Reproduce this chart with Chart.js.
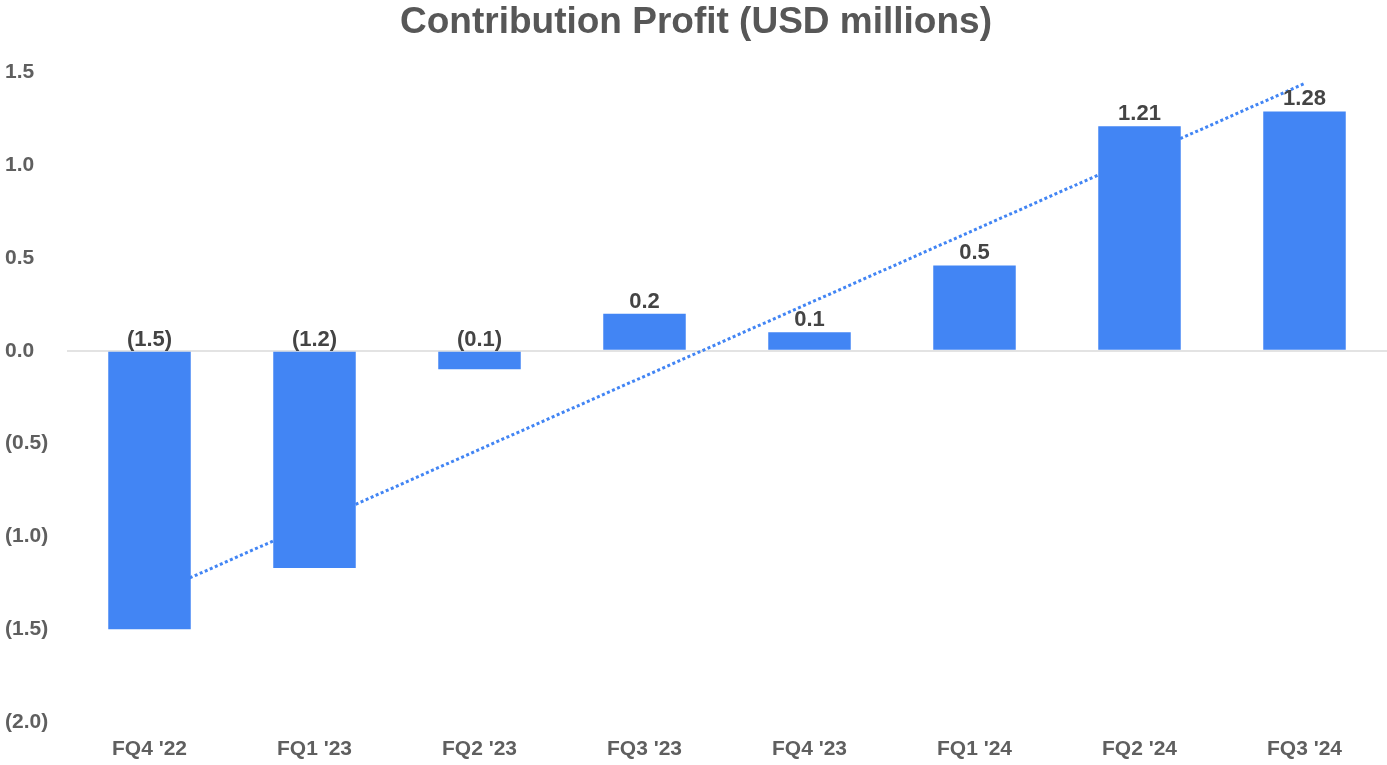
<!DOCTYPE html>
<html>
<head>
<meta charset="utf-8">
<script src="https://cdn.jsdelivr.net/npm/chart.js@4.4.1/dist/chart.umd.min.js"></script>
<style>
  html, body { margin: 0; padding: 0; background: #ffffff; }
  #wrap { width: 1387px; height: 765px; position: relative; }
</style>
</head>
<body>
<div id="wrap"><canvas id="c" width="1387" height="765"></canvas></div>
<script>
const categories = ["FQ4 '22", "FQ1 '23", "FQ2 '23", "FQ3 '23", "FQ4 '23", "FQ1 '24", "FQ2 '24", "FQ3 '24"];
const contributionProfit = [-1.50, -1.17, -0.10, 0.20, 0.10, 0.46, 1.21, 1.29];
const valueLabels = ["(1.5)", "(1.2)", "(0.1)", "0.2", "0.1", "0.5", "1.21", "1.28"];
const trendline = [-1.32, null, null, null, null, null, null, 1.44];
const yTickValues = [-2.0, -1.5, -1.0, -0.5, 0.0, 0.5, 1.0, 1.5];
const yTickLabels = ["(2.0)", "(1.5)", "(1.0)", "(0.5)", "0.0", "0.5", "1.0", "1.5"];

const FONT = "'Liberation Sans', Arial, sans-serif";
const BLUE = '#4285F4';

const valueLabelPlugin = {
  id: 'valueLabels',
  afterDatasetsDraw(chart) {
    const meta = chart.getDatasetMeta(0);
    const ctx = chart.ctx;
    ctx.save();
    ctx.font = 'bold 22px ' + FONT;
    ctx.fillStyle = '#444444';
    ctx.textAlign = 'center';
    ctx.textBaseline = 'bottom';
    meta.data.forEach((el, i) => {
      const v = contributionProfit[i];
      const top = v >= 0 ? el.y : el.base;
      ctx.fillText(valueLabels[i], el.x, top - 1);
    });
    ctx.restore();
  }
};

new Chart(document.getElementById('c'), {
  data: {
    labels: categories,
    datasets: [
      {
        type: 'bar',
        data: contributionProfit,
        backgroundColor: BLUE,
        borderWidth: 0,
        barPercentage: 0.5,
        categoryPercentage: 1.0,
        order: 1
      },
      {
        type: 'line',
        data: trendline,
        spanGaps: true,
        borderColor: BLUE,
        borderWidth: 3,
        borderDash: [3, 2.5],
        pointRadius: 0,
        fill: false,
        tension: 0,
        order: 2
      }
    ]
  },
  options: {
    responsive: false,
    animation: false,
    layout: { padding: { left: 5, right: 0, top: 0, bottom: 0 } },
    plugins: {
      legend: { display: false },
      tooltip: { enabled: false },
      title: {
        display: true,
        text: 'Contribution Profit (USD millions)',
        color: '#575757',
        font: { family: FONT, size: 37, weight: 'bold', lineHeight: 1.2 },
        padding: { top: 1, bottom: 27 }
      }
    },
    scales: {
      x: {
        grid: { display: false, drawTicks: false },
        border: { display: false },
        ticks: {
          color: '#5f5f5f',
          font: { family: FONT, size: 21, weight: 'bold' },
          padding: 15,
          maxRotation: 0
        },
        afterFit(scale) { scale.height = 43; }
      },
      y: {
        min: -2.0,
        max: 1.5,
        grid: {
          drawTicks: false,
          color: (c) => (c.tick && c.tick.value === 0 ? '#e3e3e3' : 'rgba(0,0,0,0)'),
          lineWidth: 2
        },
        border: { display: false },
        afterBuildTicks(scale) { scale.ticks = yTickValues.map(v => ({ value: v })); },
        ticks: {
          color: '#5f5f5f',
          font: { family: FONT, size: 21, weight: 'bold' },
          crossAlign: 'far',
          callback: (value) => {
            const idx = yTickValues.findIndex(t => Math.abs(t - value) < 1e-9);
            return idx >= 0 ? yTickLabels[idx] : '';
          }
        },
        afterFit(scale) { scale.width = 62; }
      }
    }
  },
  plugins: [valueLabelPlugin]
});
</script>
</body>
</html>
